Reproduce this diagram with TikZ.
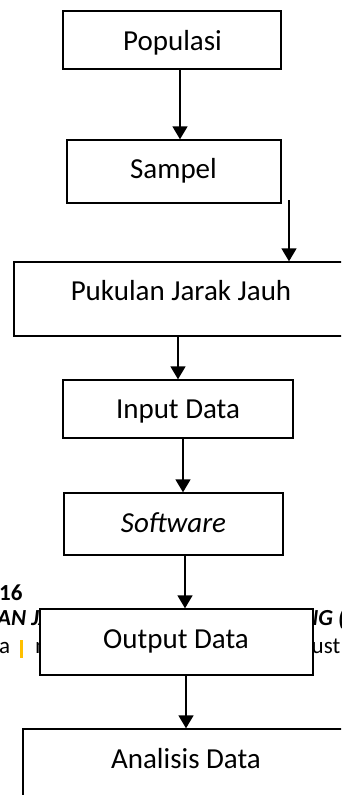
\documentclass[tikz,border=0pt]{standalone}
\usepackage{fontspec}
\setmainfont{Carlito}
\usetikzlibrary{arrows.meta}
\definecolor{barYellow}{HTML}{FFC000}
\begin{document}
\begin{tikzpicture}[x=1pt,y=-1pt,
  box/.style={draw=black, line width=1.4pt, fill=white, rectangle, inner sep=0pt},
  lbl/.style={anchor=base, inner sep=0pt, font=\fontsize{29}{34}\selectfont},
  bg/.style={anchor=base west, inner sep=0pt, font=\fontsize{23}{27}\selectfont},
  bgbold/.style={bg, font=\fontsize{23}{27}\selectfont\bfseries},
  bgboldit/.style={bg, font=\fontsize{23}{27}\selectfont\bfseries\itshape},
  arr/.style={line width=1.6pt, -{Triangle[width=15pt,length=13pt]}}]
\useasboundingbox (0,0) rectangle (341,795);
\clip (0,0) rectangle (341,795);

% page text lying behind the chart
\node[bgbold] (bgA) at (-1,600) {16};
\node[bgboldit] (bgB) at (-3,625) {AN JARAK};
\node[bg] (bgC) at (-1,653) {a};
\fill[barYellow] (20,640) rectangle (22.6,658);
\node[bg] (bgD) at (35,653) {m};
\node[bgboldit] (bgE) at (303,625) {NG (};
\node[bg] (bgF) at (311.5,653) {ust};

% flow boxes
\node[box, minimum width=218pt, minimum height=58pt] (pop) at (172,40) {};
\node[box, minimum width=214pt, minimum height=63pt] (samp) at (174,171.5) {};
\node[box, minimum width=350pt, minimum height=74pt] (pjj) at (189,299) {};
\node[box, minimum width=230pt, minimum height=58pt] (inp) at (178,409) {};
\node[box, minimum width=219pt, minimum height=62pt] (soft) at (173.5,524) {};
\node[box, minimum width=273pt, minimum height=66pt] (outp) at (176.5,642) {};
\node[box, minimum width=350pt, minimum height=90pt] (anal) at (198,774) {};

% box labels
\node[lbl] (popT) at (172.5,50) {Populasi};
\node[lbl] (sampT) at (173.5,178) {Sampel};
\node[lbl] (pjjT) at (181,300) {Pukulan Jarak Jauh};
\node[lbl] (inpT) at (178,418) {Input Data};
\node[lbl] (softT) at (173.5,532) {\itshape Software};
\node[lbl] (outpT) at (176,648) {Output Data};
\node[lbl] (analT) at (186,768) {Analisis Data};

% connectors
\coordinate (sampOut) at (289,200);
\draw[arr] (180,0 |- pop.south) -- (180,0 |- samp.north);
\draw[arr] (sampOut) -- (sampOut |- pjj.north);
\draw[arr] (178,0 |- pjj.south) -- (178,0 |- inp.north);
\draw[arr] (183,0 |- inp.south) -- (183,0 |- soft.north);
\draw[arr] (185,0 |- soft.south) -- (185,0 |- outp.north);
\draw[arr] (186,0 |- outp.south) -- (186,0 |- anal.north);
\end{tikzpicture}
\end{document}
